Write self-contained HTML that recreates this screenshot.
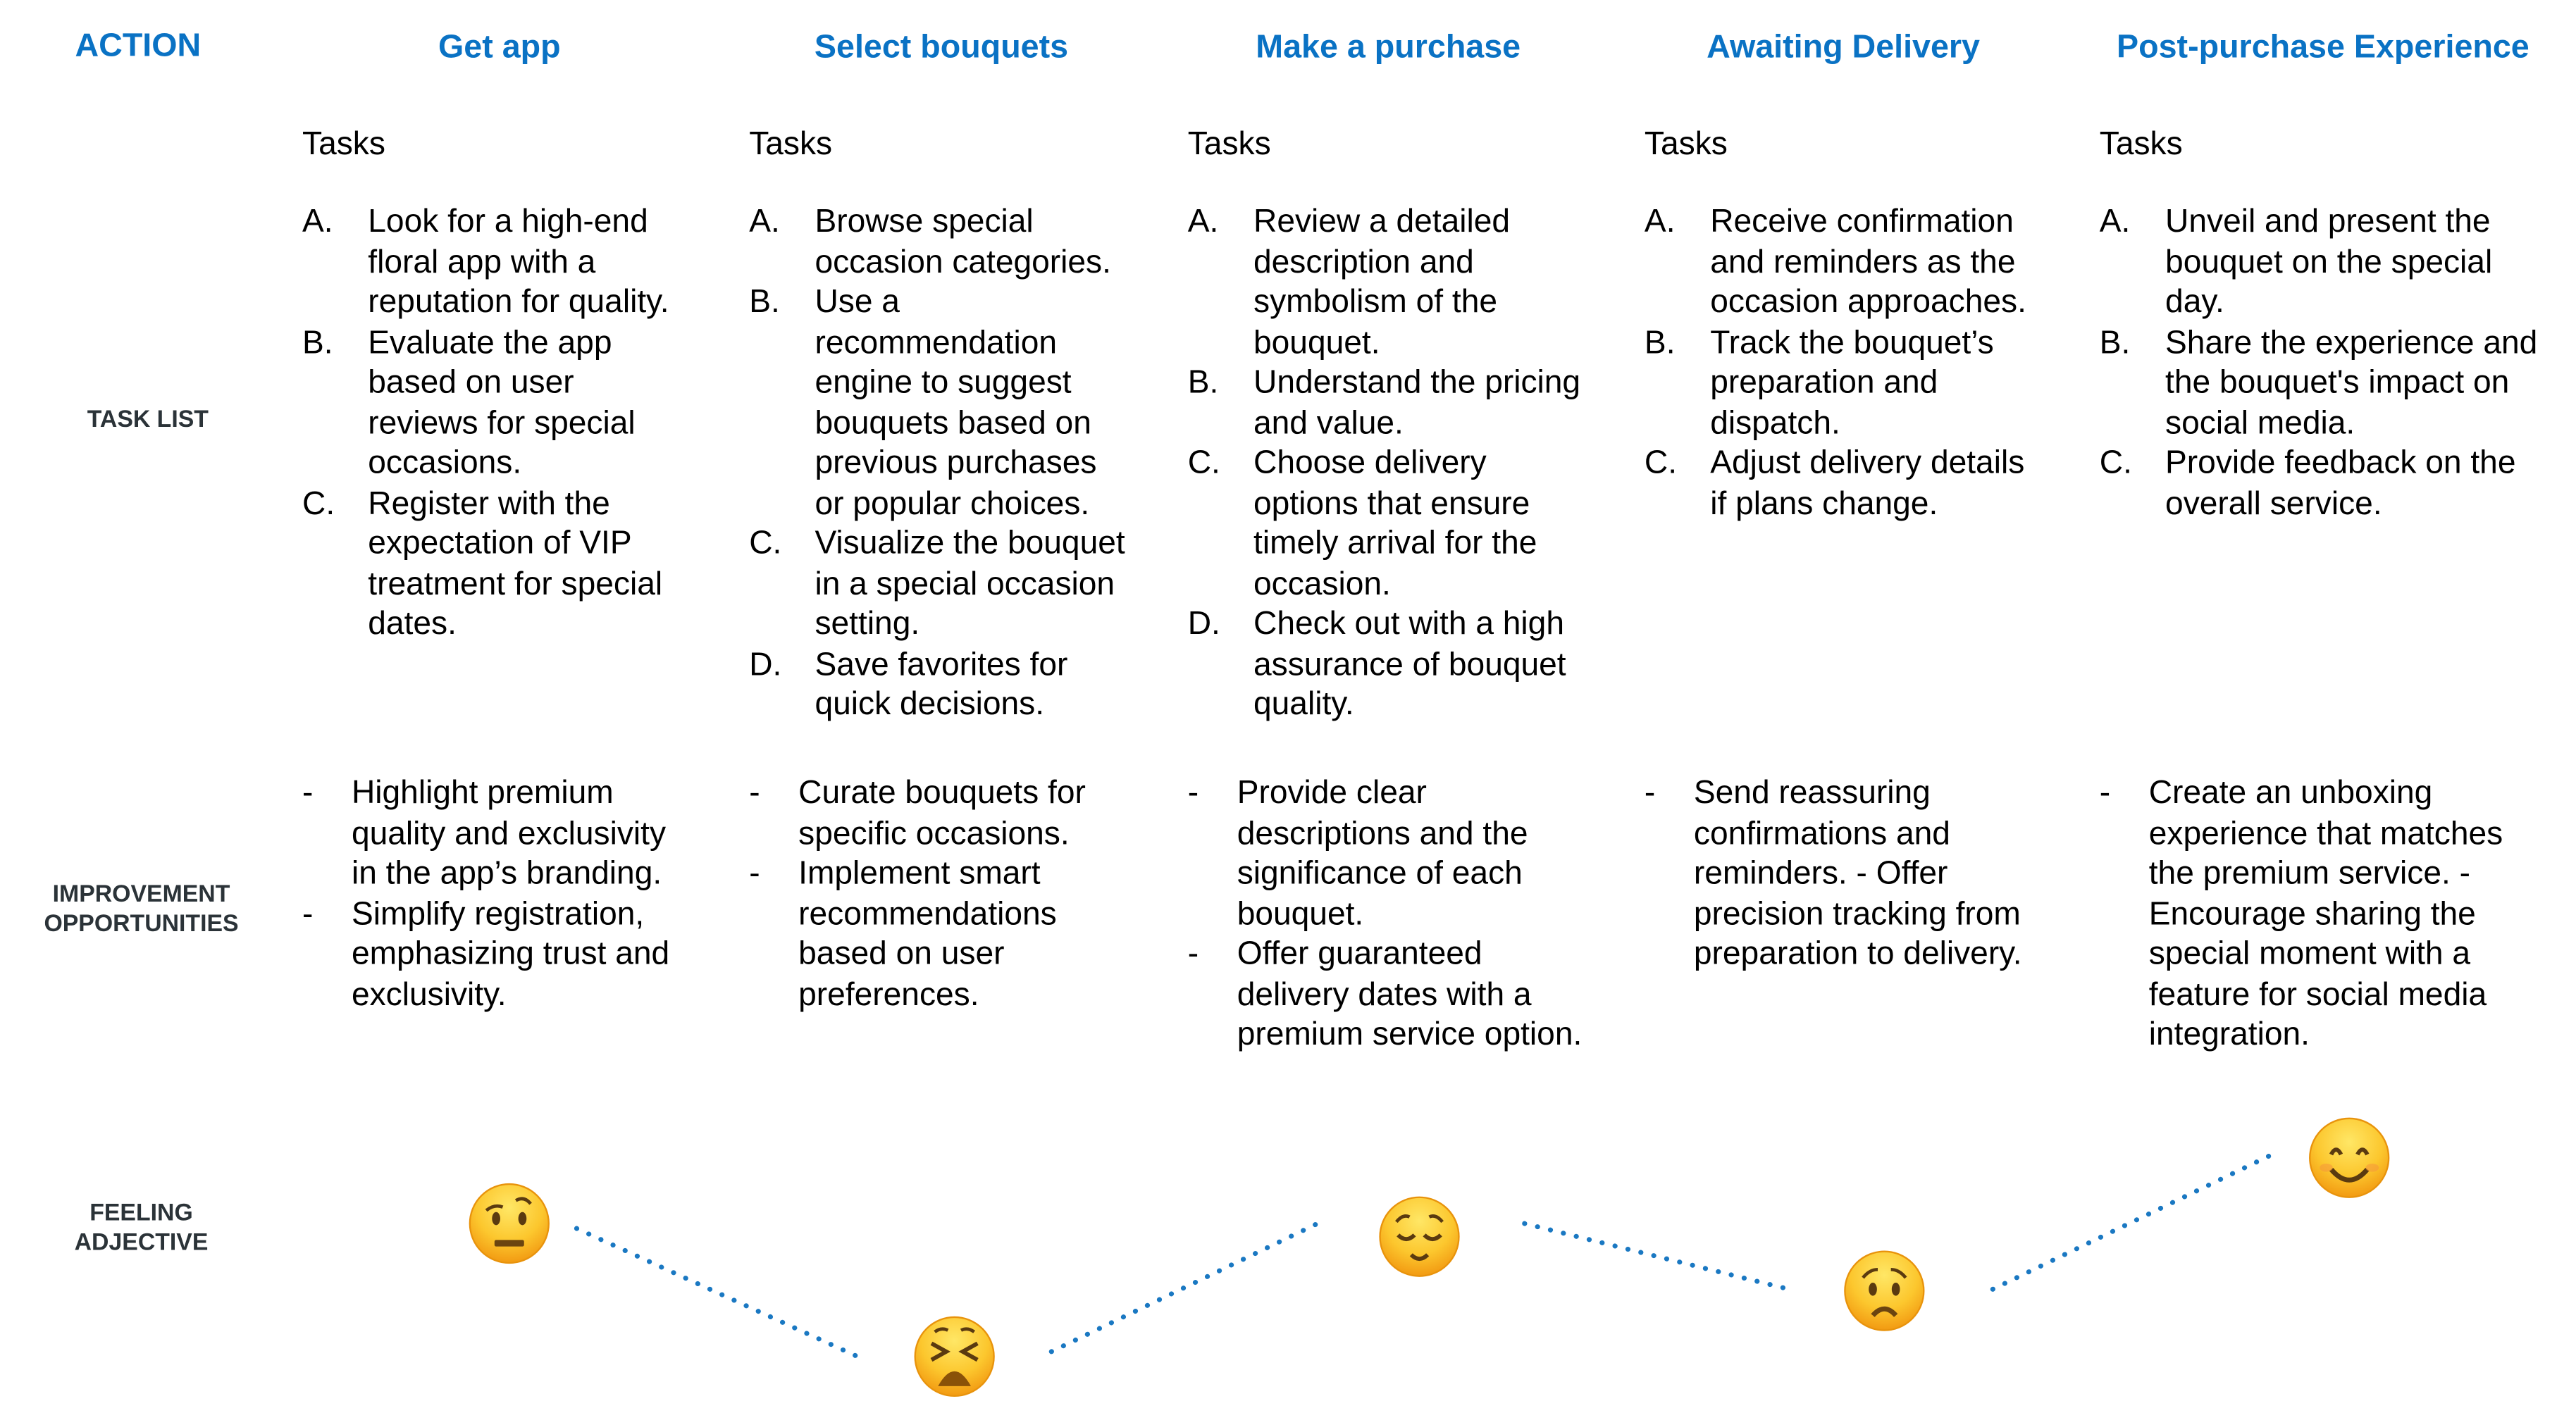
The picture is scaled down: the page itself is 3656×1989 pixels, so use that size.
<!DOCTYPE html>
<html><head><meta charset="utf-8"><style>
html,body{margin:0;padding:0;background:#fff;}
body{width:3656px;height:1987px;overflow:hidden;position:relative;}
#c{position:absolute;left:0;top:0;width:1568px;height:853px;transform:scale(2.3316);transform-origin:0 0;font-family:"Liberation Sans",Arial,Helvetica,sans-serif;color:#000;}
.h{position:absolute;top:18px;font-weight:bold;font-size:20px;color:#0a72c4;white-space:nowrap;transform:translateX(-50%);}
.rl{position:absolute;font-weight:bold;font-size:14.5px;color:#2b3338;text-align:center;line-height:18px;white-space:nowrap;transform:translateX(-50%);}
.t{position:absolute;font-size:19.8px;white-space:nowrap;line-height:24.5px;}
.m{position:absolute;font-size:19.8px;line-height:24.5px;white-space:nowrap;}
svg{position:absolute;left:0;top:0;}
</style></head><body><div id="c">
<div class="h" style="left:84px;top:17px">ACTION</div>
<div class="h" style="left:304px">Get app</div>
<div class="h" style="left:573px">Select bouquets</div>
<div class="h" style="left:845px">Make a purchase</div>
<div class="h" style="left:1122px">Awaiting Delivery</div>
<div class="h" style="left:1414px">Post-purchase Experience</div>

<div class="rl" style="left:90px;top:247px">TASK LIST</div>
<div class="rl" style="left:86px;top:536px">IMPROVEMENT<br>OPPORTUNITIES</div>
<div class="rl" style="left:86px;top:730px">FEELING<br>ADJECTIVE</div>

<div class="t" style="left:184px;top:76px">Tasks</div>
<div class="m" style="left:184px;top:123px">A.<br><br><br>B.<br><br><br><br>C.</div>
<div class="t" style="left:224px;top:123px">Look for a high-end<br>floral app with a<br>reputation for quality.<br>Evaluate the app<br>based on user<br>reviews for special<br>occasions.<br>Register with the<br>expectation of VIP<br>treatment for special<br>dates.</div>
<div class="m" style="left:184px;top:471px">-<br><br><br>-</div>
<div class="t" style="left:214px;top:471px">Highlight premium<br>quality and exclusivity<br>in the app’s branding.<br>Simplify registration,<br>emphasizing trust and<br>exclusivity.</div>

<div class="t" style="left:456px;top:76px">Tasks</div>
<div class="m" style="left:456px;top:123px">A.<br><br>B.<br><br><br><br><br><br>C.<br><br><br>D.</div>
<div class="t" style="left:496px;top:123px">Browse special<br>occasion categories.<br>Use a<br>recommendation<br>engine to suggest<br>bouquets based on<br>previous purchases<br>or popular choices.<br>Visualize the bouquet<br>in a special occasion<br>setting.<br>Save favorites for<br>quick decisions.</div>
<div class="m" style="left:456px;top:471px">-<br><br>-</div>
<div class="t" style="left:486px;top:471px">Curate bouquets for<br>specific occasions.<br>Implement smart<br>recommendations<br>based on user<br>preferences.</div>

<div class="t" style="left:723px;top:76px">Tasks</div>
<div class="m" style="left:723px;top:123px">A.<br><br><br><br>B.<br><br>C.<br><br><br><br>D.</div>
<div class="t" style="left:763px;top:123px">Review a detailed<br>description and<br>symbolism of the<br>bouquet.<br>Understand the pricing<br>and value.<br>Choose delivery<br>options that ensure<br>timely arrival for the<br>occasion.<br>Check out with a high<br>assurance of bouquet<br>quality.</div>
<div class="m" style="left:723px;top:471px">-<br><br><br><br>-</div>
<div class="t" style="left:753px;top:471px">Provide clear<br>descriptions and the<br>significance of each<br>bouquet.<br>Offer guaranteed<br>delivery dates with a<br>premium service option.</div>

<div class="t" style="left:1001px;top:76px">Tasks</div>
<div class="m" style="left:1001px;top:123px">A.<br><br><br>B.<br><br><br>C.</div>
<div class="t" style="left:1041px;top:123px">Receive confirmation<br>and reminders as the<br>occasion approaches.<br>Track the bouquet’s<br>preparation and<br>dispatch.<br>Adjust delivery details<br>if plans change.</div>
<div class="m" style="left:1001px;top:471px">-</div>
<div class="t" style="left:1031px;top:471px">Send reassuring<br>confirmations and<br>reminders. - Offer<br>precision tracking from<br>preparation to delivery.</div>

<div class="t" style="left:1278px;top:76px">Tasks</div>
<div class="m" style="left:1278px;top:123px">A.<br><br><br>B.<br><br><br>C.</div>
<div class="t" style="left:1318px;top:123px">Unveil and present the<br>bouquet on the special<br>day.<br>Share the experience and<br>the bouquet's impact on<br>social media.<br>Provide feedback on the<br>overall service.</div>
<div class="m" style="left:1278px;top:471px">-</div>
<div class="t" style="left:1308px;top:471px">Create an unboxing<br>experience that matches<br>the premium service. -<br>Encourage sharing the<br>special moment with a<br>feature for social media<br>integration.</div>

<svg width="1568" height="853" viewBox="0 0 1568 853">
<defs>
<radialGradient id="g" cx="50%" cy="30%" r="70%">
<stop offset="0" stop-color="#ffe766"/><stop offset="0.6" stop-color="#fcc72e"/><stop offset="1" stop-color="#f29a12"/>
</radialGradient>
</defs>
<g stroke="#1a78c2" stroke-width="3" stroke-linecap="round" stroke-dasharray="0.1 8" fill="none">
<line x1="351" y1="748" x2="522" y2="826"/>
<line x1="640" y1="823" x2="802" y2="745"/>
<line x1="928" y1="745" x2="1093" y2="786"/>
<line x1="1213" y1="785" x2="1383" y2="703"/>
</g>
<g transform="translate(310,745)">
<circle r="24" fill="url(#g)" stroke="#e8930c" stroke-width="1"/>
<ellipse cx="-8" cy="-3" rx="2.5" ry="4" fill="#5a3a10"/><ellipse cx="8" cy="-3" rx="2.5" ry="4" fill="#5a3a10"/>
<path d="M-14 -8 Q-9 -12 -4 -10 M4 -14 Q9 -17 13 -12" stroke="#5a3a10" stroke-width="2" fill="none"/>
<rect x="-9" y="10" width="18" height="4" rx="1" fill="#6b4410"/>
</g>
<g transform="translate(581,826)">
<circle r="24" fill="url(#g)" stroke="#e8930c" stroke-width="1"/>
<path d="M-14 -8 L-5 -3 L-14 2 M14 -8 L5 -3 L14 2" stroke="#5a3a10" stroke-width="2.5" fill="none"/>
<path d="M-12 -15 Q-8 -18 -4 -16 M4 -16 Q8 -18 12 -15" stroke="#5a3a10" stroke-width="2" fill="none"/>
<path d="M-10 18 Q0 0 10 18 Z" fill="#8a5208"/>
</g>
<g transform="translate(864,753)">
<circle r="24" fill="url(#g)" stroke="#e8930c" stroke-width="1"/>
<path d="M-13 -1 Q-8 4 -3 -1 M3 -1 Q8 4 13 -1" stroke="#5a3a10" stroke-width="2.5" fill="none"/>
<path d="M-14 -9 Q-10 -14 -6 -12 M6 -12 Q10 -14 14 -9" stroke="#5a3a10" stroke-width="2" fill="none"/>
<path d="M-5 11 Q0 16 5 11" stroke="#5a3a10" stroke-width="2.5" fill="none"/>
</g>
<g transform="translate(1147,786)">
<circle r="24" fill="url(#g)" stroke="#e8930c" stroke-width="1"/>
<ellipse cx="-7" cy="-1" rx="2.5" ry="4" fill="#5a3a10"/><ellipse cx="7" cy="-1" rx="2.5" ry="4" fill="#5a3a10"/>
<path d="M-13 -8 Q-9 -13 -4 -13 M4 -13 Q9 -13 13 -8" stroke="#5a3a10" stroke-width="2" fill="none"/>
<path d="M-7 15 Q0 7 7 15" stroke="#6b4410" stroke-width="3" fill="none"/>
</g>
<g transform="translate(1430,705)">
<circle r="24" fill="url(#g)" stroke="#e8930c" stroke-width="1"/>
<path d="M-11 -2 Q-8 -8 -5 -2 M5 -2 Q8 -8 11 -2" stroke="#5a3a10" stroke-width="2.5" fill="none"/>
<path d="M-11 7 Q0 20 11 7" stroke="#5a3a10" stroke-width="3" fill="none"/>
<ellipse cx="-14" cy="6" rx="4" ry="2.5" fill="#f59a3a" opacity="0.6"/><ellipse cx="14" cy="6" rx="4" ry="2.5" fill="#f59a3a" opacity="0.6"/>
</g>
</svg>
</div></body></html>
